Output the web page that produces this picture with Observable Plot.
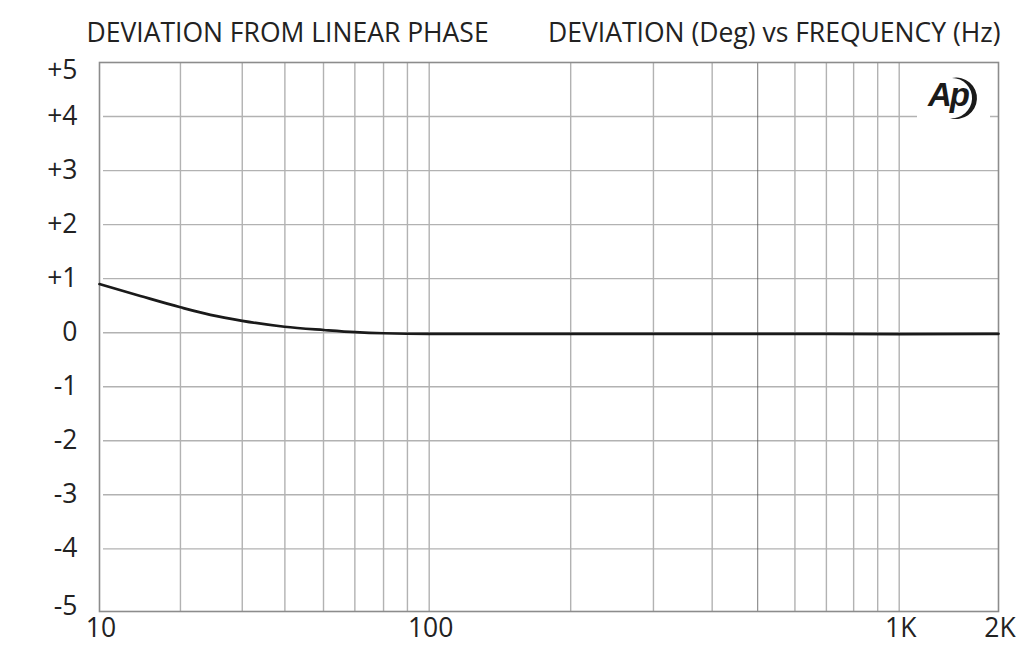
<!DOCTYPE html>
<html><head><meta charset="utf-8">
<script src="https://cdn.jsdelivr.net/npm/d3@7"></script>
<script src="https://cdn.jsdelivr.net/npm/@observablehq/plot@0.6"></script>
<style>body{margin:0;background:#fff;} svg{display:block}</style>
</head><body><div id="chart"></div>
<script>
const titleLeft = "DEVIATION FROM LINEAR PHASE";
const titleRight = "DEVIATION (Deg) vs FREQUENCY (Hz)";
const logoText = "Ap";
const xTickValues = [10, 100, 1000, 2000];
const xTickLabels = ["10", "100", "1K", "2K"];
const yTickValues = [5, 4, 3, 2, 1, 0, -1, -2, -3, -4, -5];
const yTickLabels = ["+5", "+4", "+3", "+2", "+1", "0", "-1", "-2", "-3", "-4", "-5"];
const yGridValues = [4, 3, 2, 1, 0, -1, -2, -3, -4];
const xGridValues = [17.6, 27.1, 36.5, 47.8, 59.5, 72.7, 85.9, 100, 200, 300, 400, 600, 700, 800, 900, 1000];
const xGridDark = [500];
const freqHz = [10, 13.3, 17.6, 21.7, 27.1, 36.4, 47.9, 59.6, 72.8, 100, 200, 500, 1000, 2000];
const deviationDeg = [0.90, 0.68, 0.47, 0.33, 0.22, 0.11, 0.05, 0.01, -0.01, -0.02, -0.02, -0.02, -0.025, -0.02];

const W = 1024, H = 665, mL = 99, mR = 26, mT = 62, mB = 54;
const curve = freqHz.map((f, i) => ({f, d: deviationDeg[i]}));
const font = "'Open Sans', sans-serif";
const ink = "#222";
const fs = 26.5;

const chart = Plot.plot({
  width: W, height: H,
  marginLeft: mL, marginRight: mR, marginTop: mT, marginBottom: mB,
  x: {type: "log", domain: xTickValues, range: [99, 428.7, 898.7, 998], axis: null},
  y: {domain: [-5, 5], range: [602.4, 62], axis: null},
  style: {fontFamily: font, background: "white", color: ink},
  marks: [
    Plot.ruleY(yGridValues, {stroke: "#b2b2b2", strokeWidth: 1.4, insetLeft: 4}),
    Plot.ruleX(xGridValues, {stroke: "#b2b2b2", strokeWidth: 1.4}),
    Plot.ruleX(xGridDark, {stroke: "#555", strokeWidth: 0.8}),
    Plot.frame({stroke: "#8c8c8c", strokeWidth: 1.6}),
    Plot.line(curve, {x: "f", y: "d", stroke: "#1a1a1a", strokeWidth: 2.7, curve: "monotone-x"}),
    Plot.text(xTickValues, {x: d => d, text: (d, i) => xTickLabels[i], frameAnchor: "bottom", lineAnchor: "middle", dy: 17, dx: 1.5, fontSize: fs, fill: ink}),
    Plot.text(yTickValues.slice(1, -1), {y: d => d, text: (d, i) => yTickLabels[i + 1], frameAnchor: "left", textAnchor: "end", lineAnchor: "middle", dx: -22, fontSize: fs, fill: ink}),
    Plot.text(yTickValues.slice(0, 1), {y: d => d, text: () => yTickLabels[0], frameAnchor: "left", textAnchor: "end", lineAnchor: "middle", dx: -22, dy: 8, fontSize: fs, fill: ink}),
    Plot.text(yTickValues.slice(-1), {y: d => d, text: () => yTickLabels[yTickLabels.length - 1], frameAnchor: "left", textAnchor: "end", lineAnchor: "middle", dx: -22, dy: 4, fontSize: fs, fill: ink}),
    Plot.text([titleLeft], {frameAnchor: "top-left", textAnchor: "start", lineAnchor: "middle", dx: -13, dy: -29, fontSize: fs, fill: ink}),
    Plot.text([titleRight], {frameAnchor: "top-right", textAnchor: "end", lineAnchor: "middle", dx: 2, dy: -29, fontSize: fs, fill: ink})
  ]
});

// Logo (decoration): white box, "Ap" text, crescent arc
const svg = d3.select(chart);
const fx = W - mR, fy = mT;
svg.append("rect").attr("x", fx - 81).attr("y", fy + 12).attr("width", 73).attr("height", 58).attr("fill", "white");
svg.append("text").text(logoText)
  .attr("x", fx - 50).attr("y", fy + 44)
  .attr("text-anchor", "middle")
  .attr("font-family", "'Liberation Sans', Arial, sans-serif")
  .attr("font-weight", "bold").attr("font-style", "italic")
  .attr("font-size", 33).attr("letter-spacing", -2).attr("fill", "#1a1a1a");
svg.append("path")
  .attr("d", `M${fx-46},${fy+16} A20.7,20.7 0 1 1 ${fx-48},${fy+56} A20.05,20.05 0 1 0 ${fx-46},${fy+16} Z`)
  .attr("fill", "#1a1a1a");

document.getElementById("chart").appendChild(chart);
</script>
</body></html>
